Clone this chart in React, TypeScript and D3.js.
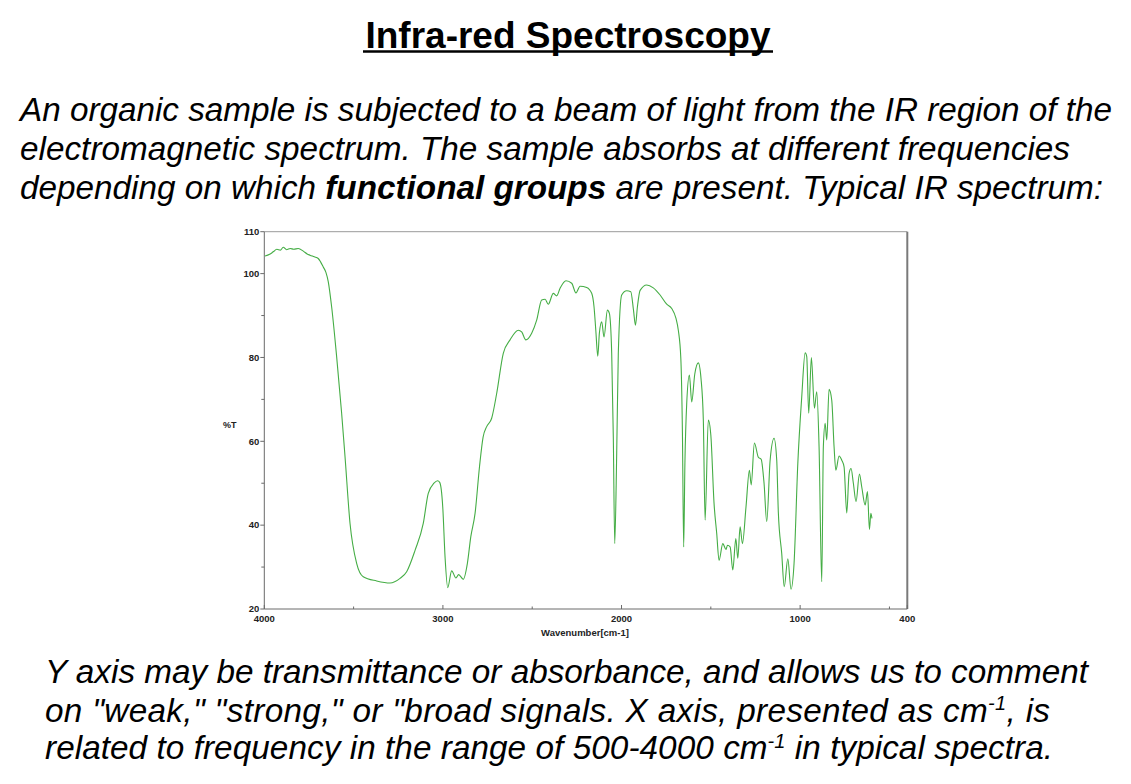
import React from 'react';
import * as d3 from 'd3';

const wavenumbers = [
  3996, 3970, 3950, 3930, 3910, 3894, 3875, 3855, 3835, 3810, 3780, 3760, 3744, 3720, 3698, 3685,
  3670, 3655, 3642, 3623, 3595, 3567, 3548, 3520, 3483, 3446, 3371, 3296, 3240, 3203, 3156, 3110,
  3082, 3050, 3030, 3018, 3001, 2988, 2973, 2951, 2927, 2912, 2886, 2863, 2844, 2820, 2795, 2775,
  2755, 2727, 2699, 2662, 2624, 2578, 2559, 2536, 2503, 2475, 2447, 2428, 2410, 2382, 2363, 2344,
  2311, 2279, 2255, 2232, 2195, 2167, 2154, 2144, 2133, 2124, 2111, 2098, 2079, 2068, 2055, 2046,
  2038, 2027, 2018, 1999, 1971, 1948, 1933, 1922, 1911, 1896, 1859, 1822, 1784, 1747, 1719, 1695,
  1682, 1668, 1659, 1652, 1645, 1635, 1620, 1607, 1590, 1570, 1555, 1542, 1532, 1514, 1500, 1482,
  1467, 1454, 1433, 1415, 1407, 1392, 1377, 1360, 1349, 1336, 1323, 1303, 1284, 1274, 1256, 1234,
  1218, 1202, 1187, 1168, 1146, 1131, 1122, 1103, 1089, 1069, 1051, 1034, 1013, 991, 972, 963,
  952, 937, 920, 907, 894, 879, 870, 860, 851, 838, 823, 810, 800, 782, 767, 754,
  739, 726, 715, 702, 687, 668, 655, 636, 623, 612, 604, 598,
];

const transmittance = [
  104.2, 104.6, 105.2, 105.8, 105.6, 106.3, 105.7, 106.0, 105.8, 106.0, 105.3, 104.7, 104.4, 104.0, 103.6, 102.8,
  101.6, 100.3, 98.1, 92.1, 80.2, 66.7, 56.3, 40.4, 30.9, 27.7, 26.7, 26.2, 27.3, 28.9, 34.0, 40.4,
  47.6, 50.0, 50.6, 50.2, 44.4, 32.4, 25.1, 29.1, 27.4, 28.2, 27.1, 30.9, 37.2, 42.8, 54.0, 61.0,
  63.5, 65.5, 71.4, 81.0, 84.2, 86.5, 86.1, 84.2, 85.8, 88.9, 93.7, 93.9, 92.7, 95.3, 94.7, 96.5,
  98.3, 97.7, 95.4, 97.0, 96.7, 95.3, 92.1, 86.5, 80.3, 85.8, 88.5, 84.9, 91.3, 90.5, 81.0, 61.1,
  35.6, 57.1, 81.0, 94.9, 95.9, 95.7, 91.3, 87.7, 92.1, 96.0, 97.3, 96.6, 94.9, 92.7, 91.7, 89.3,
  86.5, 79.8, 62.0, 34.8, 55.0, 69.0, 75.8, 69.4, 76.0, 78.7, 75.0, 65.1, 41.2, 65.1, 61.5, 45.2,
  38.0, 31.6, 35.6, 34.2, 35.2, 34.8, 29.3, 36.8, 32.1, 39.6, 35.6, 44.4, 53.1, 49.6, 59.6, 56.2,
  55.7, 50.0, 40.8, 55.5, 60.7, 55.5, 43.0, 33.2, 25.3, 32.0, 24.7, 30.9, 54.7, 70.6, 81.1, 80.2,
  66.7, 80.0, 67.9, 71.8, 58.7, 26.5, 58.7, 64.3, 60.3, 72.4, 69.8, 58.7, 53.1, 56.5, 55.5, 53.9,
  42.9, 52.3, 53.5, 50.0, 45.6, 52.2, 49.1, 44.8, 48.0, 39.0, 42.8, 41.6,
];

const xMajorTicks = [4000, 3000, 2000, 1000, 400];
const xMinorTicks = [3500, 2500, 1500, 500];
const yMajorTicks = [20, 40, 60, 80, 100, 110];
const yMinorTicks = [30, 50, 70, 90];

const titleText = 'Infra-red Spectroscopy';
const topLines = [
  'An organic sample is subjected to a beam of light from the IR region of the',
  'electromagnetic spectrum. The sample absorbs at different frequencies',
];
const xAxisLabel = 'Wavenumber[cm-1]';
const yAxisLabel = '%T';

export default function App() {
  const x = d3.scaleLinear().domain([4000, 400]).range([264.3, 907.3]);
  const y = d3.scaleLinear().domain([20, 110]).range([609, 231.7]);
  const pts: [number, number][] = wavenumbers.map((w, i) => [w, transmittance[i]]);
  const line = d3
    .line<[number, number]>()
    .x((d) => x(d[0]))
    .y((d) => y(d[1]))
    .curve(d3.curveMonotoneX);

  const [x0, x1] = x.range();
  const [yb, yt] = y.range();
  const font = '"Liberation Sans", Arial, sans-serif';
  const pFont = 33.3;

  return (
    <svg
      width={1131}
      height={784}
      style={{ position: 'absolute', left: 0, top: 0, background: '#fff' }}
      fontFamily={font}
    >
      <rect x={0} y={0} width={1131} height={784} fill="#fff" />
      {/* Title */}
      <text x={568} y={48} textAnchor="middle" fontSize={37} fontWeight="bold" fill="#000">
        {titleText}
      </text>
      <line x1={363} x2={773} y1={51.5} y2={51.5} stroke="#000" strokeWidth={2.6} />

      {/* Top paragraph */}
      <g fontSize={pFont} fontStyle="italic" fill="#000">
        <text x={20} y={121} textLength={1092} lengthAdjust="spacing">{topLines[0]}</text>
        <text x={20} y={160} textLength={1050} lengthAdjust="spacing">{topLines[1]}</text>
        <text x={20} y={199} textLength={1083} lengthAdjust="spacing">
          depending on which <tspan fontWeight="bold">functional groups</tspan> are present. Typical IR spectrum:
        </text>
      </g>

      {/* Chart frame */}
      <line x1={x0} x2={x1} y1={yt} y2={yt} stroke="#9a9a9a" strokeWidth={1} />
      <line x1={x1} x2={x1} y1={yt} y2={yb} stroke="#7a7a7a" strokeWidth={2} />
      <line x1={x0} x2={x0} y1={yt} y2={yb} stroke="#6a6a6a" strokeWidth={1} />
      <line x1={x0} x2={x1} y1={yb} y2={yb} stroke="#6a6a6a" strokeWidth={1} />

      {/* Y ticks */}
      {yMajorTicks.map((t) => (
        <g key={'ym' + t}>
          <line x1={x0 - 4} x2={x0} y1={y(t)} y2={y(t)} stroke="#6a6a6a" />
          <text
            x={x0 - 5}
            y={y(t)}
            dy="0.35em"
            textAnchor="end"
            fontSize={9.5}
            fontWeight="bold"
            fill="#222"
          >
            {t}
          </text>
        </g>
      ))}
      {yMinorTicks.map((t) => (
        <line key={'yn' + t} x1={x0 - 3} x2={x0} y1={y(t)} y2={y(t)} stroke="#6a6a6a" />
      ))}

      {/* X ticks */}
      {xMajorTicks.map((t) => (
        <g key={'xm' + t}>
          <line x1={x(t)} x2={x(t)} y1={yb} y2={yb - 4} stroke="#6a6a6a" />
          <text x={x(t)} y={yb + 13} textAnchor="middle" fontSize={9.5} fontWeight="bold" fill="#222">
            {t}
          </text>
        </g>
      ))}
      {xMinorTicks.map((t) => (
        <line key={'xn' + t} x1={x(t)} x2={x(t)} y1={yb} y2={yb - 2.5} stroke="#6a6a6a" />
      ))}

      <text x={585} y={635.5} textAnchor="middle" fontSize={9.5} fontWeight="bold" fill="#222">
        {xAxisLabel}
      </text>
      <text x={223} y={428} fontSize={9} fontWeight="bold" fill="#222">
        {yAxisLabel}
      </text>

      {/* Spectrum */}
      <path d={line(pts) || ''} fill="none" stroke="#45ad45" strokeWidth={1.1} strokeLinejoin="round" />

      {/* Bottom paragraph */}
      <g fontSize={pFont} fontStyle="italic" fill="#000">
        <text x={45} y={683} textLength={1043} lengthAdjust="spacing">
          Y axis may be transmittance or absorbance, and allows us to comment
        </text>
        <text x={45} y={722} textLength={1005} lengthAdjust="spacing">
          on "weak," "strong," or "broad signals. X axis, presented as cm
          <tspan fontSize={20} dy={-12}>-1</tspan>
          <tspan dy={12}>, is</tspan>
        </text>
        <text x={45} y={759} textLength={1008} lengthAdjust="spacing">
          related to frequency in the range of 500-4000 cm
          <tspan fontSize={20} dy={-11}>-1</tspan>
          <tspan dy={11}> in typical spectra.</tspan>
        </text>
      </g>
    </svg>
  );
}
